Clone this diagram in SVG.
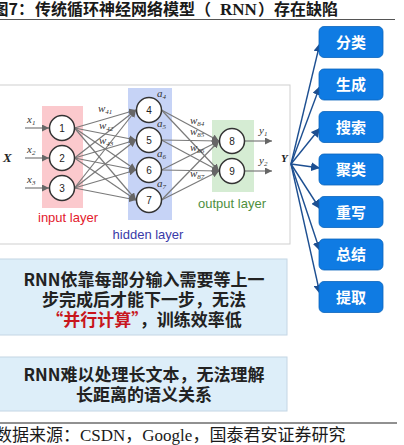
<svg xmlns="http://www.w3.org/2000/svg" width="404" height="445" viewBox="0 0 404 445">
<style>
.title{font-family:"Noto Sans CJK SC",sans-serif;font-weight:bold;font-size:16px;fill:#1a1a1a}
.serifb{font-family:"Liberation Serif","Noto Sans CJK SC",serif;font-weight:bold;font-size:17px;fill:#1a1a1a}
.foot{font-family:"Liberation Serif","Noto Sans CJK SC",serif;font-size:17px;fill:#1a1a1a}
.node{fill:#fff;stroke:#333;stroke-width:1.5}
.num{font-family:"Liberation Sans",Arial,sans-serif;font-size:10px;fill:#222;text-anchor:middle}
.var{font-family:"Liberation Serif",serif;font-style:italic;font-size:11px;fill:#333}
.sub{font-size:7px}
.lyr{font-family:"Liberation Sans",Arial,sans-serif;font-size:13px;text-anchor:middle}
.nn{stroke:#7a7a7a;stroke-width:1.2;fill:none;marker-end:url(#ga)}
.bl{stroke:#1d4f91;stroke-width:1.4;fill:none;marker-end:url(#ba)}
.btn{fill:#0f7be3;stroke:#0a64bd;stroke-width:0.8}
.btxt{font-family:"Noto Sans CJK SC",sans-serif;font-weight:bold;font-size:15px;fill:#fff;text-anchor:middle}
.note{fill:#ddeef9;stroke:#c4d6e4;stroke-width:1}
.ntxt{font-family:"Noto Sans CJK SC",sans-serif;font-weight:bold;font-size:17px;fill:#222;text-anchor:middle}
</style>
<defs>
<marker id="ga" viewBox="0 0 10 10" refX="10" refY="5" markerWidth="7" markerHeight="7" markerUnits="userSpaceOnUse" orient="auto"><path d="M0,0 L10,5 L0,10 z" fill="#666"/></marker>
<marker id="ba" viewBox="0 0 10 10" refX="10" refY="5" markerWidth="9" markerHeight="9" markerUnits="userSpaceOnUse" orient="auto"><path d="M0,0 L10,5 L0,10 z" fill="#1d4f91"/></marker>
</defs>
<rect width="404" height="445" fill="#fff"/>

<g id="title">
<text class="title" x="34" y="15" text-anchor="end">图7：</text>
<text class="title" x="35" y="15">传统循环神经网络模型（</text>
<text class="serifb" x="220" y="15">RNN</text>
<text class="title" x="258" y="15">）存在缺陷</text>
<line x1="0" y1="19.5" x2="395" y2="19.5" stroke="#555" stroke-width="1"/>
</g>

<g id="frame">
<rect x="-1" y="85" width="291" height="159" fill="#fff" stroke="#cfcfcf" stroke-width="1"/>
</g>

<g id="layers">
<rect x="42" y="106" width="41" height="102" fill="#fbc9cd"/>
<rect x="128" y="88" width="44" height="132" fill="#c6d3f6"/>
<rect x="212" y="120" width="42" height="72" fill="#d5ecd3"/>
<text class="lyr" x="68" y="222" fill="#e3202c">input layer</text>
<text class="lyr" x="148" y="239" fill="#3a3aa8">hidden layer</text>
<text class="lyr" x="232" y="208" fill="#4e8f3e">output layer</text>
</g>

<g id="connectors">
<line class="nn" x1="25" y1="128" x2="49" y2="128"/>
<line class="nn" x1="25" y1="158" x2="49" y2="158"/>
<line class="nn" x1="25" y1="188" x2="49" y2="188"/>
<line class="nn" x1="74.5" y1="128" x2="136" y2="110"/>
<line class="nn" x1="74.5" y1="128" x2="136" y2="140"/>
<line class="nn" x1="74.5" y1="128" x2="136" y2="170"/>
<line class="nn" x1="74.5" y1="128" x2="136" y2="200"/>
<line class="nn" x1="74.5" y1="158" x2="136" y2="110"/>
<line class="nn" x1="74.5" y1="158" x2="136" y2="140"/>
<line class="nn" x1="74.5" y1="158" x2="136" y2="170"/>
<line class="nn" x1="74.5" y1="158" x2="136" y2="200"/>
<line class="nn" x1="74.5" y1="188" x2="136" y2="110"/>
<line class="nn" x1="74.5" y1="188" x2="136" y2="140"/>
<line class="nn" x1="74.5" y1="188" x2="136" y2="170"/>
<line class="nn" x1="74.5" y1="188" x2="136" y2="200"/>
<line class="nn" x1="161.5" y1="110" x2="219" y2="141"/>
<line class="nn" x1="161.5" y1="110" x2="219" y2="171"/>
<line class="nn" x1="161.5" y1="140" x2="219" y2="141"/>
<line class="nn" x1="161.5" y1="140" x2="219" y2="171"/>
<line class="nn" x1="161.5" y1="170" x2="219" y2="141"/>
<line class="nn" x1="161.5" y1="170" x2="219" y2="171"/>
<line class="nn" x1="161.5" y1="200" x2="219" y2="141"/>
<line class="nn" x1="161.5" y1="200" x2="219" y2="171"/>
<line class="nn" x1="244.5" y1="141" x2="272" y2="141"/>
<line class="nn" x1="244.5" y1="171" x2="272" y2="171"/>
<line class="bl" x1="291" y1="164" x2="320" y2="43"/>
<line class="bl" x1="291" y1="164" x2="320" y2="86"/>
<line class="bl" x1="291" y1="164" x2="320" y2="128"/>
<line class="bl" x1="291" y1="164" x2="320" y2="168"/>
<line class="bl" x1="291" y1="164" x2="320" y2="209"/>
<line class="bl" x1="291" y1="164" x2="320" y2="251"/>
<line class="bl" x1="291" y1="164" x2="320" y2="294"/>
</g>

<g id="labels">
<text x="3" y="162" font-family="Liberation Serif,serif" font-style="italic" font-weight="bold" font-size="13" fill="#222">X</text>
<text class="var" x="27" y="123">x<tspan class="sub" dy="2">1</tspan></text>
<text class="var" x="27" y="153">x<tspan class="sub" dy="2">2</tspan></text>
<text class="var" x="27" y="183">x<tspan class="sub" dy="2">3</tspan></text>
<text class="var" x="98" y="112">w<tspan class="sub" dy="2">41</tspan></text>
<text class="var" x="99" y="129">w<tspan class="sub" dy="2">42</tspan></text>
<text class="var" x="99" y="144">w<tspan class="sub" dy="2">43</tspan></text>
<text class="var" x="157" y="97">a<tspan class="sub" dy="2">4</tspan></text>
<text class="var" x="157" y="127">a<tspan class="sub" dy="2">5</tspan></text>
<text class="var" x="157" y="157">a<tspan class="sub" dy="2">6</tspan></text>
<text class="var" x="157" y="187">a<tspan class="sub" dy="2">7</tspan></text>
<text class="var" x="190" y="124">w<tspan class="sub" dy="2">84</tspan></text>
<text class="var" x="190" y="135">w<tspan class="sub" dy="2">85</tspan></text>
<text class="var" x="190" y="151">w<tspan class="sub" dy="2">86</tspan></text>
<text class="var" x="190" y="177">w<tspan class="sub" dy="2">87</tspan></text>
<text class="var" x="259" y="134">y<tspan class="sub" dy="2">1</tspan></text>
<text class="var" x="259" y="164">y<tspan class="sub" dy="2">2</tspan></text>
<text x="281" y="162" font-family="Liberation Serif,serif" font-style="italic" font-weight="bold" font-size="11" fill="#222">Y</text>
</g>

<g id="n1"><circle class="node" cx="62" cy="128" r="12.5"/><text class="num" x="62" y="131.5">1</text></g>
<g id="n2"><circle class="node" cx="62" cy="158" r="12.5"/><text class="num" x="62" y="161.5">2</text></g>
<g id="n3"><circle class="node" cx="62" cy="188" r="12.5"/><text class="num" x="62" y="191.5">3</text></g>
<g id="n4"><circle class="node" cx="149" cy="110" r="12.5"/><text class="num" x="149" y="113.5">4</text></g>
<g id="n5"><circle class="node" cx="149" cy="140" r="12.5"/><text class="num" x="149" y="143.5">5</text></g>
<g id="n6"><circle class="node" cx="149" cy="170" r="12.5"/><text class="num" x="149" y="173.5">6</text></g>
<g id="n7"><circle class="node" cx="149" cy="200" r="12.5"/><text class="num" x="149" y="203.5">7</text></g>
<g id="n8"><circle class="node" cx="232" cy="141" r="12.5"/><text class="num" x="232" y="144.5">8</text></g>
<g id="n9"><circle class="node" cx="232" cy="171" r="12.5"/><text class="num" x="232" y="174.5">9</text></g>

<g id="b1"><rect class="btn" x="319" y="26.5" width="64" height="31" rx="5"/><text class="btxt" x="351" y="47.5">分类</text></g>
<g id="b2"><rect class="btn" x="319" y="69" width="64" height="31" rx="5"/><text class="btxt" x="351" y="90">生成</text></g>
<g id="b3"><rect class="btn" x="319" y="111.5" width="64" height="31" rx="5"/><text class="btxt" x="351" y="132.5">搜索</text></g>
<g id="b4"><rect class="btn" x="319" y="154" width="64" height="31" rx="5"/><text class="btxt" x="351" y="175">聚类</text></g>
<g id="b5"><rect class="btn" x="319" y="196.5" width="64" height="31" rx="5"/><text class="btxt" x="351" y="217.5">重写</text></g>
<g id="b6"><rect class="btn" x="319" y="239" width="64" height="31" rx="5"/><text class="btxt" x="351" y="260">总结</text></g>
<g id="b7"><rect class="btn" x="319" y="281.5" width="64" height="31" rx="5"/><text class="btxt" x="351" y="302.5">提取</text></g>

<g id="note1">
<rect class="note" x="-1" y="259" width="288" height="76"/>
<text class="ntxt" x="144" y="286">RNN依靠每部分输入需要等上一</text>
<text class="ntxt" x="144" y="306">步完成后才能下一步，无法</text>
<text class="ntxt" x="144" y="326"><tspan fill="#c8161d">“并行计算”</tspan>，训练效率低</text>
</g>

<g id="note2">
<rect class="note" x="-1" y="357" width="288" height="54"/>
<text class="ntxt" x="144" y="381">RNN难以处理长文本，无法理解</text>
<text class="ntxt" x="144" y="401">长距离的语义关系</text>
</g>

<g id="footer">
<line x1="0" y1="423" x2="397" y2="423" stroke="#222" stroke-width="1"/>
<text class="foot" x="-5" y="441">数据来源：CSDN，Google，国泰君安证券研究</text>
</g>
</svg>
